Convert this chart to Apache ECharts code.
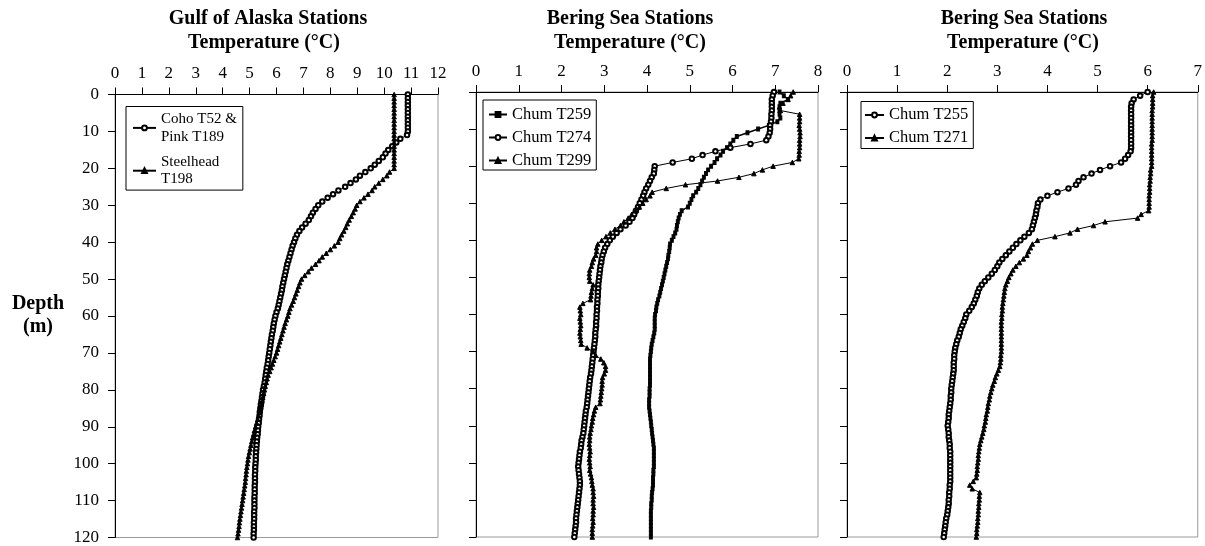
<!DOCTYPE html>
<html><head><meta charset="utf-8">
<script src="https://cdn.jsdelivr.net/npm/echarts@6/dist/echarts.min.js"></script>
<style>html,body{margin:0;padding:0;background:#fff}#c{width:1205px;height:546px}</style>
</head><body><div id="c"></div><script>
// depth (m), one reading per metre from 0 to 120
const depths = Array.from({length: 121}, (_, i) => i);
const depthTicks = [0,10,20,30,40,50,60,70,80,90,100,110,120];

// Gulf of Alaska stations (temperature, deg C)
const cohoPink = [
10.88,10.88,10.88,10.88,10.88,10.88,10.88,10.88,10.88,10.88,
10.88,10.85,10.6,10.45,10.3,10.15,10.05,9.95,9.8,9.65,
9.5,9.3,9.1,8.95,8.75,8.55,8.3,8.1,7.9,7.7,
7.55,7.45,7.35,7.28,7.2,7.08,6.95,6.85,6.76,6.7,
6.65,6.6,6.56,6.52,6.48,6.44,6.4,6.37,6.34,6.31,
6.28,6.25,6.22,6.2,6.17,6.14,6.11,6.08,6.05,6.0,
5.96,5.93,5.9,5.88,5.86,5.83,5.81,5.79,5.77,5.75,
5.73,5.71,5.69,5.67,5.64,5.62,5.6,5.58,5.56,5.53,
5.5,5.48,5.46,5.44,5.42,5.4,5.38,5.37,5.35,5.34,
5.32,5.31,5.3,5.28,5.27,5.26,5.25,5.24,5.23,5.23,
5.22,5.21,5.21,5.2,5.2,5.2,5.19,5.19,5.19,5.18,
5.18,5.18,5.18,5.17,5.17,5.17,5.16,5.16,5.16,5.15,
5.15];
const steelhead = [
10.37,10.37,10.37,10.37,10.37,10.37,10.37,10.37,10.37,10.37,
10.37,10.37,10.37,10.37,10.37,10.37,10.37,10.37,10.37,10.37,
10.37,10.2,10.1,9.95,9.8,9.65,9.55,9.4,9.25,9.1,
8.98,8.92,8.85,8.78,8.7,8.63,8.57,8.5,8.42,8.35,
8.29,8.15,8.0,7.85,7.7,7.58,7.45,7.3,7.18,7.05,
6.93,6.87,6.82,6.77,6.72,6.67,6.62,6.56,6.5,6.46,
6.42,6.37,6.32,6.28,6.24,6.2,6.16,6.12,6.08,6.04,
6.0,5.95,5.9,5.85,5.8,5.75,5.69,5.65,5.62,5.58,
5.55,5.52,5.49,5.46,5.43,5.4,5.37,5.34,5.3,5.26,
5.22,5.18,5.15,5.11,5.08,5.05,5.02,4.99,4.96,4.94,
4.92,4.9,4.88,4.87,4.85,4.84,4.82,4.8,4.78,4.76,
4.74,4.72,4.7,4.68,4.66,4.64,4.62,4.61,4.59,4.57,
4.55];

// Bering Sea stations, panel 2
const chumT259 = [
7.10,7.20,7.30,7.12,7.10,7.10,7.10,7.12,7.05,6.85,
6.6,6.35,6.1,6.02,5.95,5.87,5.78,5.72,5.64,5.58,
5.50,5.43,5.38,5.33,5.29,5.25,5.2,5.15,5.08,5.04,
5.0,4.96,4.81,4.77,4.74,4.72,4.70,4.69,4.66,4.62,
4.58,4.54,4.53,4.52,4.50,4.49,4.47,4.45,4.43,4.41,
4.39,4.37,4.35,4.33,4.31,4.29,4.26,4.24,4.22,4.21,
4.19,4.18,4.18,4.18,4.18,4.17,4.15,4.13,4.11,4.10,
4.09,4.08,4.07,4.07,4.07,4.07,4.07,4.07,4.07,4.07,
4.06,4.06,4.06,4.05,4.05,4.05,4.06,4.07,4.08,4.09,
4.10,4.11,4.12,4.13,4.14,4.15,4.16,4.16,4.16,4.16,
4.16,4.16,4.15,4.15,4.14,4.14,4.14,4.13,4.12,4.11,
4.11,4.10,4.10,4.09,4.09,4.09,4.09,4.09,4.09,4.09,
4.09];
const chumT274 = [
6.97,6.94,6.92,6.92,6.92,6.92,6.91,6.91,6.90,6.88,
6.88,6.87,6.84,6.79,6.42,5.95,5.6,5.3,5.05,4.6,
4.18,4.17,4.16,4.11,4.07,4.03,3.98,3.94,3.91,3.87,
3.83,3.79,3.74,3.70,3.66,3.59,3.50,3.38,3.29,3.20,
3.13,3.07,3.02,2.99,2.96,2.94,2.93,2.91,2.90,2.89,
2.88,2.87,2.86,2.86,2.85,2.85,2.84,2.84,2.83,2.83,
2.82,2.82,2.81,2.81,2.80,2.79,2.79,2.78,2.77,2.76,
2.75,2.74,2.73,2.72,2.71,2.70,2.69,2.67,2.66,2.65,
2.64,2.63,2.62,2.61,2.60,2.59,2.57,2.56,2.55,2.54,
2.53,2.52,2.51,2.49,2.47,2.46,2.45,2.43,2.42,2.41,
2.40,2.39,2.40,2.41,2.42,2.43,2.43,2.42,2.41,2.40,
2.39,2.38,2.37,2.36,2.35,2.34,2.34,2.33,2.32,2.31,
2.30];
const chumT299 = [
7.42,7.36,7.30,7.18,7.10,7.12,7.57,7.57,7.57,7.56,
7.57,7.58,7.58,7.57,7.57,7.57,7.56,7.56,7.55,7.40,
6.95,6.70,6.50,6.15,5.65,4.90,4.45,4.12,4.07,3.98,
3.90,3.82,3.74,3.64,3.56,3.46,3.38,3.25,3.14,3.04,
2.94,2.85,2.82,2.82,2.80,2.75,2.72,2.70,2.66,2.65,
2.65,2.66,2.74,2.72,2.70,2.69,2.68,2.50,2.43,2.44,
2.45,2.43,2.44,2.45,2.44,2.43,2.44,2.45,2.46,2.60,
2.74,2.80,2.92,2.99,3.03,3.03,3.00,2.96,2.95,2.95,
2.94,2.93,2.92,2.91,2.90,2.80,2.77,2.75,2.73,2.72,
2.70,2.69,2.67,2.66,2.66,2.65,2.66,2.67,2.66,2.65,
2.66,2.67,2.66,2.68,2.70,2.71,2.72,2.74,2.74,2.75,
2.74,2.74,2.75,2.74,2.74,2.73,2.74,2.73,2.72,2.72,
2.72];

// Bering Sea stations, panel 3
const chumT255 = [
6.0,5.85,5.72,5.68,5.67,5.67,5.67,5.67,5.67,5.67,
5.67,5.67,5.67,5.67,5.67,5.67,5.66,5.61,5.55,5.47,
5.25,5.05,4.88,4.72,4.62,4.57,4.42,4.2,4.0,3.86,
3.81,3.80,3.78,3.77,3.75,3.73,3.71,3.69,3.63,3.54,
3.46,3.38,3.31,3.24,3.17,3.10,3.04,3.0,2.95,2.89,
2.82,2.75,2.69,2.64,2.61,2.59,2.56,2.53,2.49,2.44,
2.38,2.36,2.33,2.30,2.27,2.25,2.23,2.20,2.18,2.16,
2.15,2.14,2.14,2.13,2.13,2.13,2.12,2.11,2.10,2.09,
2.08,2.08,2.07,2.07,2.06,2.05,2.04,2.03,2.03,2.02,
2.01,2.02,2.03,2.03,2.04,2.05,2.05,2.06,2.06,2.06,
2.06,2.06,2.06,2.06,2.06,2.06,2.05,2.05,2.04,2.04,
2.03,2.03,2.02,2.01,2.00,1.98,1.97,1.96,1.95,1.94,
1.93];
const chumT271 = [
6.12,6.10,6.10,6.10,6.10,6.09,6.09,6.09,6.09,6.09,
6.09,6.09,6.09,6.09,6.08,6.08,6.08,6.08,6.08,6.08,
6.08,6.06,6.06,6.05,6.05,6.04,6.04,6.04,6.03,6.03,
6.03,6.03,6.02,5.87,5.80,5.15,4.92,4.60,4.45,4.15,
3.80,3.70,3.66,3.62,3.59,3.52,3.44,3.37,3.31,3.27,
3.23,3.20,3.17,3.15,3.14,3.13,3.12,3.11,3.10,3.10,
3.09,3.09,3.08,3.08,3.08,3.08,3.08,3.08,3.08,3.08,
3.08,3.07,3.07,3.06,3.05,3.02,2.99,2.96,2.94,2.91,
2.89,2.87,2.85,2.84,2.82,2.81,2.80,2.78,2.77,2.76,
2.74,2.73,2.71,2.69,2.67,2.65,2.64,2.63,2.62,2.62,
2.61,2.60,2.60,2.59,2.58,2.52,2.45,2.50,2.65,2.64,
2.64,2.63,2.63,2.62,2.62,2.61,2.61,2.60,2.59,2.59,
2.58];

const titles1 = ['Gulf of Alaska Stations', 'Bering Sea Stations', 'Bering Sea Stations'];
const titles2 = ['Temperature (°C)', 'Temperature (°C)', 'Temperature (°C)'];
const xMax = [12, 8, 7];
const yTitle = ['Depth', '(m)'];

const FONT = '"Liberation Serif", "Times New Roman", serif';
const chart = echarts.init(document.getElementById('c'), null, {renderer: 'canvas'});

const grids = [
  {left: 115, top: 94.5, width: 323, height: 443},
  {left: 476, top: 92, width: 342, height: 445},
  {left: 847, top: 92, width: 351, height: 445}
].map(g => Object.assign(g, {show: true, borderColor: '#9a9a9a', borderWidth: 1, backgroundColor: 'transparent', containLabel: false}));

const xAxes = xMax.map((m, i) => ({
  type: 'value', gridIndex: i, position: 'top', min: 0, max: m, interval: 1,
  axisLine: {show: true, onZero: false, lineStyle: {color: '#000', width: 1}},
  axisTick: {show: true, inside: false, length: 7, lineStyle: {color: '#000', width: 1}},
  axisLabel: {show: true, margin: 12, fontSize: 17, fontFamily: FONT, color: '#000'},
  splitLine: {show: false}
}));
const yAxes = [0, 1, 2].map(i => ({
  type: 'value', gridIndex: i, inverse: true, min: depthTicks[0], max: depthTicks[depthTicks.length - 1], interval: 10,
  axisLine: {show: true, onZero: false, lineStyle: {color: '#000', width: 1}},
  axisTick: {show: true, inside: false, length: 7, lineStyle: {color: '#000', width: 1}},
  axisLabel: {show: i === 0, margin: 16, fontSize: 17, fontFamily: FONT, color: '#000'},
  splitLine: {show: false}
}));

function pairs(temps) { return depths.map((d, i) => [temps[i], d]); }
function mk(name, temps, idx, symbol, size, lw) {
  return {
    type: 'line', name: name, xAxisIndex: idx, yAxisIndex: idx, data: pairs(temps),
    symbol: symbol, symbolSize: size, showSymbol: true, showAllSymbol: true,
    lineStyle: {color: '#000', width: lw || 1}, itemStyle: {color: '#000', borderColor: '#000', borderWidth: 1},
    color: '#000', animation: false, silent: true, clip: true
  };
}
const series = [
  mk('Coho T52 &\nPink T189', cohoPink, 0, 'emptyCircle', 4.5),
  mk('Steelhead\nT198', steelhead, 0, 'triangle', 4.5),
  mk('Chum T259', chumT259, 1, 'rect', [3, 3.8], 1.5),
  mk('Chum T274', chumT274, 1, 'emptyCircle', 4.5),
  mk('Chum T299', chumT299, 1, 'triangle', 4.5),
  mk('Chum T255', chumT255, 2, 'emptyCircle', 4.5),
  mk('Chum T271', chumT271, 2, 'triangle', 4.5)
];

const legBase = {orient: 'vertical', borderColor: '#000', borderWidth: 1, backgroundColor: '#fff', itemHeight: 6, selectedMode: false};
const legends = [
  Object.assign({}, legBase, {data: [series[0].name, series[1].name], left: 126, top: 106.5, padding: [4, 6, 2, 6], itemGap: 8, itemWidth: 23,
    textStyle: {fontFamily: FONT, fontSize: 15, lineHeight: 17.4, color: '#000'}}),
  Object.assign({}, legBase, {data: ['Chum T259', 'Chum T274', 'Chum T299'], left: 483, top: 100, padding: [6, 5, 1, 5], itemGap: 6, itemWidth: 18,
    textStyle: {fontFamily: FONT, fontSize: 16.5, lineHeight: 17, color: '#000'}}),
  Object.assign({}, legBase, {data: ['Chum T255', 'Chum T271'], left: 861, top: 101.5, padding: [5, 5, 2, 3], itemGap: 6, itemWidth: 19,
    textStyle: {fontFamily: FONT, fontSize: 16.5, lineHeight: 17, color: '#000'}})
];

function txt(t, x, y, size) {
  return {type: 'text', x: x, y: y, silent: true,
    style: {text: t, font: 'bold ' + size + 'px ' + FONT, fill: '#000', textAlign: 'center', textVerticalAlign: 'middle', align: 'center', verticalAlign: 'middle'}};
}
const titleX1 = [268, 630, 1024];
const titleX2 = [264, 630, 1023];
const graphic = [];
for (let i = 0; i < 3; i++) {
  graphic.push(txt(titles1[i], titleX1[i], 19, 20));
  graphic.push(txt(titles2[i], titleX2[i], 43, 20));
}
graphic.push(txt(yTitle[0], 38, 304, 20));
graphic.push(txt(yTitle[1], 38, 327, 20));

chart.setOption({
  animation: false,
  backgroundColor: '#fff',
  textStyle: {fontFamily: FONT},
  grid: grids, xAxis: xAxes, yAxis: yAxes,
  legend: legends, series: series, graphic: graphic
});
</script></body></html>
